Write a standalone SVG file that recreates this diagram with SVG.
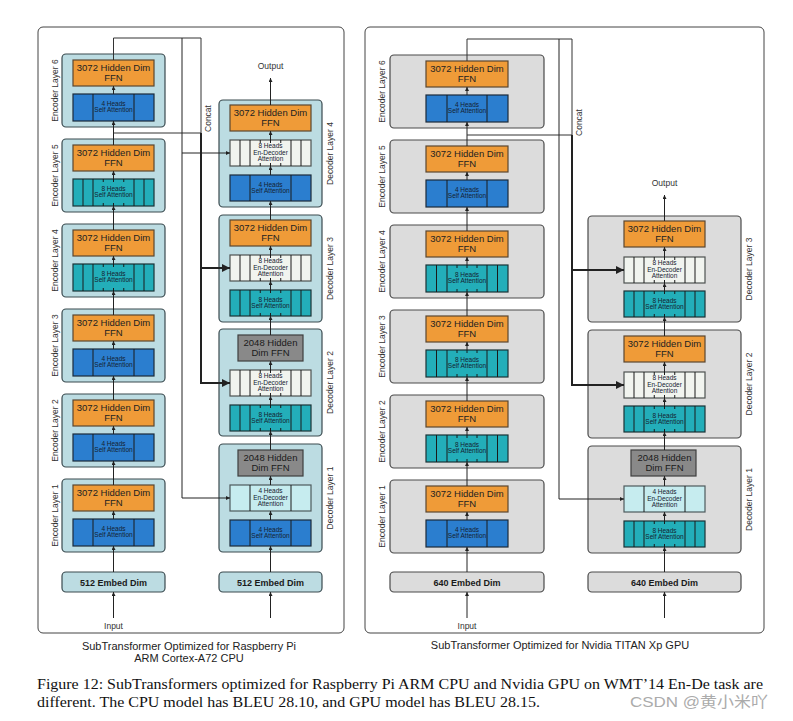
<svg xmlns="http://www.w3.org/2000/svg" width="793" height="721" viewBox="0 0 793 721">
<defs>
<marker id="ah" viewBox="0 0 6 6" refX="6" refY="3" markerWidth="4" markerHeight="4" markerUnits="userSpaceOnUse" orient="auto"><path d="M0,0L6,3L0,6z" fill="#222"/></marker>
<marker id="ahb" viewBox="0 0 8 8" refX="8" refY="4" markerWidth="9" markerHeight="8" markerUnits="userSpaceOnUse" orient="auto"><path d="M0,0L8,4L0,8z" fill="#222"/></marker>
<style>
.pn{fill:#fff;stroke:#444;stroke-width:1}
.lyL{fill:#BCDCE2;stroke:#3a4a4f;stroke-width:1.2}
.lyR{fill:#DCDCDC;stroke:#4a4a4a;stroke-width:1.2}
.ffn{fill:#EF9B38;stroke:#5a4630;stroke-width:1.2}
.gff{fill:#898989;stroke:#3e3e3e;stroke-width:1.2}
.bl{fill:#2B7ECF;stroke:#1b2a3a;stroke-width:1.2}
.tl{fill:#23AEB9;stroke:#1a3336;stroke-width:1.2}
.wh{fill:#F1F4EF;stroke:#4e5250;stroke-width:1.2}
.cy{fill:#C6ECEF;stroke:#4e5a5c;stroke-width:1.2}
.dv{fill:none;stroke:#1a1a1a;stroke-width:1}
.ar{fill:none;stroke:#222;stroke-width:1;marker-end:url(#ah)}
.ln{fill:none;stroke:#333;stroke-width:1}
.tk{fill:none;stroke:#222;stroke-width:2;marker-end:url(#ahb)}
.tkl{fill:none;stroke:#222;stroke-width:2}
text{font-family:"Liberation Sans",Arial,sans-serif}
.t9{font-size:9.5px;fill:#222;text-anchor:middle}
.t6{font-size:6.5px;fill:#152230;text-anchor:middle}
.eb{font-size:9px;font-weight:bold;fill:#1a1a1a;text-anchor:middle}
.lb{font-size:8.5px;fill:#333;text-anchor:middle}
.cap{font-size:11px;fill:#222;text-anchor:middle}
.fig{font-family:"Liberation Serif","Times New Roman",serif;font-size:15px;fill:#111}
.wm{font-family:"Liberation Sans","Noto Sans CJK SC",sans-serif;font-size:15px;fill:#ababab}
</style>
</defs>

<rect class="pn" x="38" y="27" width="306" height="606" rx="5"/>
<rect class="pn" x="365" y="27" width="399" height="606" rx="5"/>

<!-- LEFT ENCODER -->
<g id="L-enc6">
<rect class="lyL" x="62" y="54" width="103" height="73" rx="4"/>
<rect class="ffn" x="73" y="60" width="81" height="26"/>
<text class="t9" x="113.5" y="71">3072 Hidden Dim</text><text class="t9" x="113.5" y="80.5">FFN</text>
<rect class="bl" x="73" y="94" width="81" height="27"/><path class="dv" d="M93,94v27M134,94v27"/>
<text class="t6" x="113.5" y="105.5">4 Heads</text><text class="t6" x="113.5" y="112">Self Attention</text>
<text class="lb" transform="translate(58,90.5) rotate(-90)">Encoder Layer 6</text>
</g>
<g id="L-enc5">
<rect class="lyL" x="62" y="139" width="103" height="73" rx="4"/>
<rect class="ffn" x="73" y="145" width="81" height="26"/>
<text class="t9" x="113.5" y="156">3072 Hidden Dim</text><text class="t9" x="113.5" y="165.5">FFN</text>
<rect class="tl" x="73" y="179" width="81" height="27"/><path class="dv" d="M83,179v27m10,-27v27m41,-27v27m10,-27v27m-40.75,-27v3m10.25,-3v3m10.25,-3v3m0,21v3m-10.25,-3v3m-10.25,-3v3"/>
<text class="t6" x="113.5" y="190.5">8 Heads</text><text class="t6" x="113.5" y="197">Self Attention</text>
<text class="lb" transform="translate(58,175.5) rotate(-90)">Encoder Layer 5</text>
</g>
<g id="L-enc4">
<rect class="lyL" x="62" y="224" width="103" height="73" rx="4"/>
<rect class="ffn" x="73" y="230" width="81" height="26"/>
<text class="t9" x="113.5" y="241">3072 Hidden Dim</text><text class="t9" x="113.5" y="250.5">FFN</text>
<rect class="tl" x="73" y="264" width="81" height="27"/><path class="dv" d="M83,264v27m10,-27v27m41,-27v27m10,-27v27m-40.75,-27v3m10.25,-3v3m10.25,-3v3m0,21v3m-10.25,-3v3m-10.25,-3v3"/>
<text class="t6" x="113.5" y="275.5">8 Heads</text><text class="t6" x="113.5" y="282">Self Attention</text>
<text class="lb" transform="translate(58,260.5) rotate(-90)">Encoder Layer 4</text>
</g>
<g id="L-enc3">
<rect class="lyL" x="62" y="309" width="103" height="73" rx="4"/>
<rect class="ffn" x="73" y="315" width="81" height="26"/>
<text class="t9" x="113.5" y="326">3072 Hidden Dim</text><text class="t9" x="113.5" y="335.5">FFN</text>
<rect class="bl" x="73" y="349" width="81" height="27"/><path class="dv" d="M93,349v27M134,349v27"/>
<text class="t6" x="113.5" y="360.5">4 Heads</text><text class="t6" x="113.5" y="367">Self Attention</text>
<text class="lb" transform="translate(58,345.5) rotate(-90)">Encoder Layer 3</text>
</g>
<g id="L-enc2">
<rect class="lyL" x="62" y="394" width="103" height="73" rx="4"/>
<rect class="ffn" x="73" y="400" width="81" height="26"/>
<text class="t9" x="113.5" y="411">3072 Hidden Dim</text><text class="t9" x="113.5" y="420.5">FFN</text>
<rect class="bl" x="73" y="434" width="81" height="27"/><path class="dv" d="M93,434v27M134,434v27"/>
<text class="t6" x="113.5" y="445.5">4 Heads</text><text class="t6" x="113.5" y="452">Self Attention</text>
<text class="lb" transform="translate(58,430.5) rotate(-90)">Encoder Layer 2</text>
</g>
<g id="L-enc1">
<rect class="lyL" x="62" y="479" width="103" height="73" rx="4"/>
<rect class="ffn" x="73" y="485" width="81" height="26"/>
<text class="t9" x="113.5" y="496">3072 Hidden Dim</text><text class="t9" x="113.5" y="505.5">FFN</text>
<rect class="bl" x="73" y="519" width="81" height="27"/><path class="dv" d="M93,519v27M134,519v27"/>
<text class="t6" x="113.5" y="530.5">4 Heads</text><text class="t6" x="113.5" y="537">Self Attention</text>
<text class="lb" transform="translate(58,515.5) rotate(-90)">Encoder Layer 1</text>
</g>
<g id="L-enc-embed">
<rect class="lyL" x="62" y="572" width="103" height="20" rx="4"/>
<text class="eb" x="113.5" y="585.5">512 Embed Dim</text>
</g>

<!-- LEFT DECODER -->
<g id="L-dec4">
<rect class="lyL" x="219" y="100" width="103" height="107" rx="4"/>
<rect class="ffn" x="230" y="105" width="81" height="26"/>
<text class="t9" x="270.5" y="116">3072 Hidden Dim</text><text class="t9" x="270.5" y="125.5">FFN</text>
<rect class="wh" x="230" y="140" width="81" height="26"/><path class="dv" d="M240,140v26m10,-26v26m41,-26v26m10,-26v26m-40.75,-26v3m10.25,-3v3m10.25,-3v3m0,20v3m-10.25,-3v3m-10.25,-3v3"/>
<text class="t6" x="270.5" y="148">8 Heads</text><text class="t6" x="270.5" y="154.5">En-Decoder</text><text class="t6" x="270.5" y="161">Attention</text>
<rect class="bl" x="230" y="175" width="81" height="26"/><path class="dv" d="M250,175v26M291,175v26"/>
<text class="t6" x="270.5" y="186.5">4 Heads</text><text class="t6" x="270.5" y="193">Self Attention</text>
<text class="lb" transform="translate(333,153.5) rotate(-90)">Decoder Layer 4</text>
</g>
<g id="L-dec3">
<rect class="lyL" x="219" y="215" width="103" height="107" rx="4"/>
<rect class="ffn" x="230" y="220" width="81" height="26"/>
<text class="t9" x="270.5" y="231">3072 Hidden Dim</text><text class="t9" x="270.5" y="240.5">FFN</text>
<rect class="wh" x="230" y="255" width="81" height="26"/><path class="dv" d="M240,255v26m10,-26v26m41,-26v26m10,-26v26m-40.75,-26v3m10.25,-3v3m10.25,-3v3m0,20v3m-10.25,-3v3m-10.25,-3v3"/>
<text class="t6" x="270.5" y="263">8 Heads</text><text class="t6" x="270.5" y="269.5">En-Decoder</text><text class="t6" x="270.5" y="276">Attention</text>
<rect class="tl" x="230" y="290" width="81" height="26"/><path class="dv" d="M240,290v26m10,-26v26m41,-26v26m10,-26v26m-40.75,-26v3m10.25,-3v3m10.25,-3v3m0,20v3m-10.25,-3v3m-10.25,-3v3"/>
<text class="t6" x="270.5" y="301.5">8 Heads</text><text class="t6" x="270.5" y="308">Self Attention</text>
<text class="lb" transform="translate(333,268.5) rotate(-90)">Decoder Layer 3</text>
</g>
<g id="L-dec2">
<rect class="lyL" x="219" y="329" width="103" height="107" rx="4"/>
<rect class="gff" x="238" y="335" width="65" height="26"/>
<text class="t9" x="270.5" y="346" style="fill:#1a1a1a">2048 Hidden</text><text class="t9" x="270.5" y="355.5" style="fill:#1a1a1a">Dim FFN</text>
<rect class="wh" x="230" y="370" width="81" height="26"/><path class="dv" d="M240,370v26m10,-26v26m41,-26v26m10,-26v26m-40.75,-26v3m10.25,-3v3m10.25,-3v3m0,20v3m-10.25,-3v3m-10.25,-3v3"/>
<text class="t6" x="270.5" y="378">8 Heads</text><text class="t6" x="270.5" y="384.5">En-Decoder</text><text class="t6" x="270.5" y="391">Attention</text>
<rect class="tl" x="230" y="405" width="81" height="26"/><path class="dv" d="M240,405v26m10,-26v26m41,-26v26m10,-26v26m-40.75,-26v3m10.25,-3v3m10.25,-3v3m0,20v3m-10.25,-3v3m-10.25,-3v3"/>
<text class="t6" x="270.5" y="416.5">8 Heads</text><text class="t6" x="270.5" y="423">Self Attention</text>
<text class="lb" transform="translate(333,382.5) rotate(-90)">Decoder Layer 2</text>
</g>
<g id="L-dec1">
<rect class="lyL" x="219" y="444" width="103" height="108" rx="4"/>
<rect class="gff" x="238" y="450" width="65" height="26"/>
<text class="t9" x="270.5" y="461" style="fill:#1a1a1a">2048 Hidden</text><text class="t9" x="270.5" y="470.5" style="fill:#1a1a1a">Dim FFN</text>
<rect class="cy" x="230" y="485" width="81" height="26"/><path class="dv" d="M250,485v26M291,485v26"/>
<text class="t6" x="270.5" y="493">4 Heads</text><text class="t6" x="270.5" y="499.5">En-Decoder</text><text class="t6" x="270.5" y="506">Attention</text>
<rect class="bl" x="230" y="520" width="81" height="26"/><path class="dv" d="M250,520v26M291,520v26"/>
<text class="t6" x="270.5" y="531.5">4 Heads</text><text class="t6" x="270.5" y="538">Self Attention</text>
<text class="lb" transform="translate(333,498) rotate(-90)">Decoder Layer 1</text>
</g>
<g id="L-dec-embed">
<rect class="lyL" x="219" y="572" width="103" height="20" rx="4"/>
<text class="eb" x="270.5" y="585.5">512 Embed Dim</text>
</g>

<!-- RIGHT ENCODER -->
<g id="R-enc6">
<rect class="lyR" x="390" y="55" width="154" height="73" rx="4"/>
<rect class="ffn" x="426" y="61" width="82" height="26"/>
<text class="t9" x="467" y="72">3072 Hidden Dim</text><text class="t9" x="467" y="81.5">FFN</text>
<rect class="bl" x="426" y="95" width="82" height="27"/><path class="dv" d="M447,95v27M487,95v27"/>
<text class="t6" x="467" y="106.5">4 Heads</text><text class="t6" x="467" y="113">Self Attention</text>
<text class="lb" transform="translate(385,91.5) rotate(-90)">Encoder Layer 6</text>
</g>
<g id="R-enc5">
<rect class="lyR" x="390" y="140" width="154" height="73" rx="4"/>
<rect class="ffn" x="426" y="146" width="82" height="26"/>
<text class="t9" x="467" y="157">3072 Hidden Dim</text><text class="t9" x="467" y="166.5">FFN</text>
<rect class="bl" x="426" y="180" width="82" height="27"/><path class="dv" d="M447,180v27M487,180v27"/>
<text class="t6" x="467" y="191.5">4 Heads</text><text class="t6" x="467" y="198">Self Attention</text>
<text class="lb" transform="translate(385,176.5) rotate(-90)">Encoder Layer 5</text>
</g>
<g id="R-enc4">
<rect class="lyR" x="390" y="225" width="154" height="73" rx="4"/>
<rect class="ffn" x="426" y="231" width="82" height="26"/>
<text class="t9" x="467" y="242">3072 Hidden Dim</text><text class="t9" x="467" y="251.5">FFN</text>
<rect class="tl" x="426" y="265" width="82" height="27"/><path class="dv" d="M436.5,265v27m10.5,-27v27m40,-27v27m10.5,-27v27m-40.5,-27v3m10,-3v3m10,-3v3m0,21v3m-10,-3v3m-10,-3v3"/>
<text class="t6" x="467" y="276.5">8 Heads</text><text class="t6" x="467" y="283">Self Attention</text>
<text class="lb" transform="translate(385,261.5) rotate(-90)">Encoder Layer 4</text>
</g>
<g id="R-enc3">
<rect class="lyR" x="390" y="310" width="154" height="73" rx="4"/>
<rect class="ffn" x="426" y="316" width="82" height="26"/>
<text class="t9" x="467" y="327">3072 Hidden Dim</text><text class="t9" x="467" y="336.5">FFN</text>
<rect class="tl" x="426" y="350" width="82" height="27"/><path class="dv" d="M436.5,350v27m10.5,-27v27m40,-27v27m10.5,-27v27m-40.5,-27v3m10,-3v3m10,-3v3m0,21v3m-10,-3v3m-10,-3v3"/>
<text class="t6" x="467" y="361.5">8 Heads</text><text class="t6" x="467" y="368">Self Attention</text>
<text class="lb" transform="translate(385,346.5) rotate(-90)">Encoder Layer 3</text>
</g>
<g id="R-enc2">
<rect class="lyR" x="390" y="395" width="154" height="73" rx="4"/>
<rect class="ffn" x="426" y="401" width="82" height="26"/>
<text class="t9" x="467" y="412">3072 Hidden Dim</text><text class="t9" x="467" y="421.5">FFN</text>
<rect class="tl" x="426" y="435" width="82" height="27"/><path class="dv" d="M436.5,435v27m10.5,-27v27m40,-27v27m10.5,-27v27m-40.5,-27v3m10,-3v3m10,-3v3m0,21v3m-10,-3v3m-10,-3v3"/>
<text class="t6" x="467" y="446.5">8 Heads</text><text class="t6" x="467" y="453">Self Attention</text>
<text class="lb" transform="translate(385,431.5) rotate(-90)">Encoder Layer 2</text>
</g>
<g id="R-enc1">
<rect class="lyR" x="390" y="480" width="154" height="73" rx="4"/>
<rect class="ffn" x="426" y="486" width="82" height="26"/>
<text class="t9" x="467" y="497">3072 Hidden Dim</text><text class="t9" x="467" y="506.5">FFN</text>
<rect class="bl" x="426" y="520" width="82" height="27"/><path class="dv" d="M447,520v27M487,520v27"/>
<text class="t6" x="467" y="531.5">4 Heads</text><text class="t6" x="467" y="538">Self Attention</text>
<text class="lb" transform="translate(385,516.5) rotate(-90)">Encoder Layer 1</text>
</g>
<g id="R-enc-embed">
<rect class="lyR" x="390" y="572" width="154" height="20" rx="4"/>
<text class="eb" x="467" y="585.5">640 Embed Dim</text>
</g>

<!-- RIGHT DECODER -->
<g id="R-dec3">
<rect class="lyR" x="588" y="216" width="153" height="106" rx="4"/>
<rect class="ffn" x="624" y="221" width="81" height="26"/>
<text class="t9" x="664.5" y="232">3072 Hidden Dim</text><text class="t9" x="664.5" y="241.5">FFN</text>
<rect class="wh" x="624" y="257" width="81" height="26"/><path class="dv" d="M634,257v26m10,-26v26m41,-26v26m10,-26v26m-40.75,-26v3m10.25,-3v3m10.25,-3v3m0,20v3m-10.25,-3v3m-10.25,-3v3"/>
<text class="t6" x="664.5" y="265">8 Heads</text><text class="t6" x="664.5" y="271.5">En-Decoder</text><text class="t6" x="664.5" y="278">Attention</text>
<rect class="tl" x="624" y="291" width="81" height="26"/><path class="dv" d="M634,291v26m10,-26v26m41,-26v26m10,-26v26m-40.75,-26v3m10.25,-3v3m10.25,-3v3m0,20v3m-10.25,-3v3m-10.25,-3v3"/>
<text class="t6" x="664.5" y="302.5">8 Heads</text><text class="t6" x="664.5" y="309">Self Attention</text>
<text class="lb" transform="translate(752,269) rotate(-90)">Decoder Layer 3</text>
</g>
<g id="R-dec2">
<rect class="lyR" x="588" y="330" width="153" height="108" rx="4"/>
<rect class="ffn" x="624" y="336" width="81" height="26"/>
<text class="t9" x="664.5" y="347">3072 Hidden Dim</text><text class="t9" x="664.5" y="356.5">FFN</text>
<rect class="wh" x="624" y="372" width="81" height="26"/><path class="dv" d="M634,372v26m10,-26v26m41,-26v26m10,-26v26m-40.75,-26v3m10.25,-3v3m10.25,-3v3m0,20v3m-10.25,-3v3m-10.25,-3v3"/>
<text class="t6" x="664.5" y="380">8 Heads</text><text class="t6" x="664.5" y="386.5">En-Decoder</text><text class="t6" x="664.5" y="393">Attention</text>
<rect class="tl" x="624" y="406" width="81" height="26"/><path class="dv" d="M634,406v26m10,-26v26m41,-26v26m10,-26v26m-40.75,-26v3m10.25,-3v3m10.25,-3v3m0,20v3m-10.25,-3v3m-10.25,-3v3"/>
<text class="t6" x="664.5" y="417.5">8 Heads</text><text class="t6" x="664.5" y="424">Self Attention</text>
<text class="lb" transform="translate(752,384) rotate(-90)">Decoder Layer 2</text>
</g>
<g id="R-dec1">
<rect class="lyR" x="588" y="446" width="153" height="107" rx="4"/>
<rect class="gff" x="631" y="450" width="65" height="26"/>
<text class="t9" x="664.5" y="461" style="fill:#1a1a1a">2048 Hidden</text><text class="t9" x="664.5" y="470.5" style="fill:#1a1a1a">Dim FFN</text>
<rect class="cy" x="624" y="486" width="81" height="26"/><path class="dv" d="M644,486v26M685,486v26"/>
<text class="t6" x="664.5" y="494">4 Heads</text><text class="t6" x="664.5" y="500.5">En-Decoder</text><text class="t6" x="664.5" y="507">Attention</text>
<rect class="tl" x="624" y="521" width="81" height="26"/><path class="dv" d="M634,521v26m10,-26v26m41,-26v26m10,-26v26m-40.75,-26v3m10.25,-3v3m10.25,-3v3m0,20v3m-10.25,-3v3m-10.25,-3v3"/>
<text class="t6" x="664.5" y="532.5">8 Heads</text><text class="t6" x="664.5" y="539">Self Attention</text>
<text class="lb" transform="translate(752,499.5) rotate(-90)">Decoder Layer 1</text>
</g>
<g id="R-dec-embed">
<rect class="lyR" x="588" y="572" width="153" height="20" rx="4"/>
<text class="eb" x="664.5" y="585.5">640 Embed Dim</text>
</g>

<!-- CONNECTORS -->
<g id="connectors">
<!-- left encoder stack -->
<path class="ar" d="M113.5,618V592"/>
<path class="ar" d="M113.5,572V546"/>
<path class="ar" d="M113.5,519V511"/>
<path class="ar" d="M113.5,485V461"/>
<path class="ar" d="M113.5,434V426"/>
<path class="ar" d="M113.5,400V376"/>
<path class="ar" d="M113.5,349V341"/>
<path class="ar" d="M113.5,315V291"/>
<path class="ar" d="M113.5,264V256"/>
<path class="ar" d="M113.5,230V206"/>
<path class="ar" d="M113.5,179V171"/>
<path class="ar" d="M113.5,145V121"/>
<path class="ar" d="M113.5,94V86"/>
<path class="ln" d="M113.5,60V38H201"/>
<path class="ln" d="M113.5,133H201"/>
<!-- left concat routes -->
<path class="ln" d="M201,38V133"/>
<path class="ar" d="M182,38V498H230"/>
<path class="ar" d="M182,153H230"/>
<path class="tk" d="M201,133V383H230"/>
<path class="tk" d="M201,268H230"/>
<!-- left decoder stack -->
<path class="ar" d="M270.5,618V592"/>
<path class="ar" d="M270.5,572V546"/>
<path class="ar" d="M270.5,520V511"/>
<path class="ar" d="M270.5,485V476"/>
<path class="ar" d="M270.5,450V431"/>
<path class="ar" d="M270.5,405V396"/>
<path class="ar" d="M270.5,370V361"/>
<path class="ar" d="M270.5,335V316"/>
<path class="ar" d="M270.5,290V281"/>
<path class="ar" d="M270.5,255V246"/>
<path class="ar" d="M270.5,220V201"/>
<path class="ar" d="M270.5,175V166"/>
<path class="ar" d="M270.5,140V131"/>
<path class="ar" d="M270.5,105V78"/>
<!-- right encoder stack -->
<path class="ar" d="M467,618V592"/>
<path class="ar" d="M467,572V547"/>
<path class="ar" d="M467,520V512"/>
<path class="ar" d="M467,486V462"/>
<path class="ar" d="M467,435V427"/>
<path class="ar" d="M467,401V377"/>
<path class="ar" d="M467,350V342"/>
<path class="ar" d="M467,316V292"/>
<path class="ar" d="M467,265V257"/>
<path class="ar" d="M467,231V207"/>
<path class="ar" d="M467,180V172"/>
<path class="ar" d="M467,146V122"/>
<path class="ar" d="M467,95V87"/>
<path class="ln" d="M467,61V39H572"/>
<path class="ln" d="M467,135H572"/>
<!-- right concat routes -->
<path class="ln" d="M572,39V135"/>
<path class="ar" d="M559,39V499H624"/>
<path class="tk" d="M572,135V385H624"/>
<path class="tk" d="M572,270H624"/>
<!-- right decoder stack -->
<path class="ar" d="M664.5,618V592"/>
<path class="ar" d="M664.5,572V547"/>
<path class="ar" d="M664.5,521V512"/>
<path class="ar" d="M664.5,486V476"/>
<path class="ar" d="M664.5,450V432"/>
<path class="ar" d="M664.5,406V398"/>
<path class="ar" d="M664.5,372V362"/>
<path class="ar" d="M664.5,336V317"/>
<path class="ar" d="M664.5,291V283"/>
<path class="ar" d="M664.5,257V247"/>
<path class="ar" d="M664.5,221V195"/>
</g>

<!-- free labels -->
<text class="lb" x="270.5" y="69">Output</text>
<text class="lb" x="664.5" y="186">Output</text>
<text class="lb" x="113.5" y="629">Input</text>
<text class="lb" x="467" y="629">Input</text>
<text class="lb" transform="translate(211,118.5) rotate(-90)">Concat</text>
<text class="lb" transform="translate(582,122.5) rotate(-90)">Concat</text>

<text class="cap" x="189" y="650">SubTransformer Optimized for Raspberry Pi</text>
<text class="cap" x="189" y="662">ARM Cortex-A72 CPU</text>
<text class="cap" x="560" y="649">SubTransformer Optimized for Nvidia TITAN Xp GPU</text>

<text class="fig" x="37" y="689" textLength="726" lengthAdjust="spacingAndGlyphs">Figure 12: SubTransformers optimized for Raspberry Pi ARM CPU and Nvidia GPU on WMT’14 En-De task are</text>
<text class="fig" x="37" y="707" textLength="503" lengthAdjust="spacingAndGlyphs">different. The CPU model has BLEU 28.10, and GPU model has BLEU 28.15.</text>
<text class="wm" x="630" y="707" textLength="138" lengthAdjust="spacingAndGlyphs">CSDN @黄小米吖</text>
</svg>
